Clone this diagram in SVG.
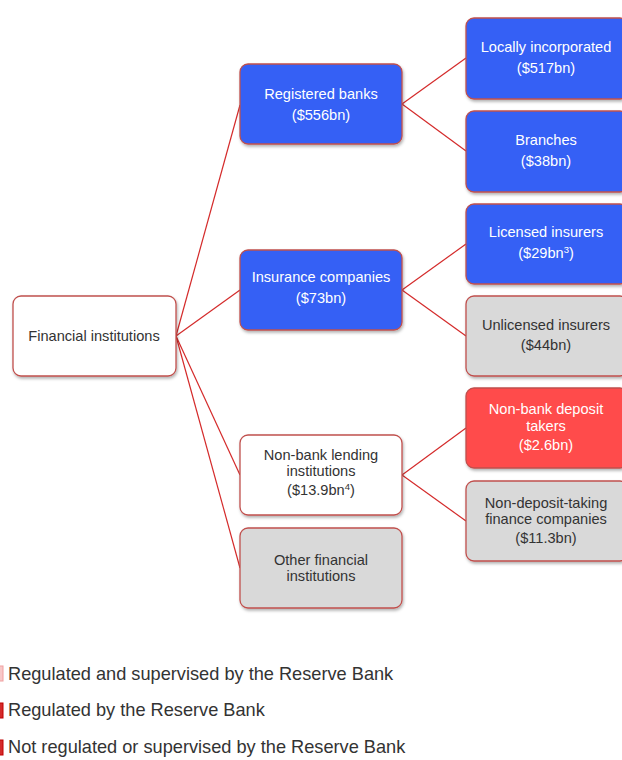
<svg xmlns="http://www.w3.org/2000/svg" width="622" height="760" viewBox="0 0 622 760">
<defs>
<filter id="sh" x="-10%" y="-10%" width="125%" height="130%">
<feDropShadow dx="1" dy="2" stdDeviation="1.5" flood-color="#000" flood-opacity="0.3"/>
</filter>
</defs>
<style>
.box{stroke:#C0504D;stroke-width:1.3;filter:url(#sh)}
.blue{fill:#3461F5}
.red{fill:#FF4B4B}
.gray{fill:#D9D9D9}
.white{fill:#FFFFFF}
text{font-family:"Liberation Sans",Arial,sans-serif;font-size:14.6px;text-anchor:middle}
.lt{fill:#FFFFFF}
.dk{fill:#333333}
.leg{font-size:18.2px;text-anchor:start;fill:#333333}
.conn{stroke:#D42A2A;stroke-width:1.2;fill:none}
</style>
<rect width="622" height="760" fill="#FFFFFF"/>
<g id="connectors">
<line class="conn" x1="176" y1="336" x2="240" y2="105"/>
<line class="conn" x1="176" y1="336" x2="240" y2="290"/>
<line class="conn" x1="176" y1="336" x2="240" y2="475"/>
<line class="conn" x1="176" y1="336" x2="240" y2="568"/>
<line class="conn" x1="402" y1="104" x2="466" y2="58"/>
<line class="conn" x1="402" y1="104" x2="466" y2="151"/>
<line class="conn" x1="402" y1="290" x2="466" y2="244"/>
<line class="conn" x1="402" y1="290" x2="466" y2="336"/>
<line class="conn" x1="402" y1="475" x2="466" y2="428"/>
<line class="conn" x1="402" y1="475" x2="466" y2="521"/>
</g>
<g id="financial-institutions">
<rect class="box white" x="13" y="296" width="163" height="80" rx="8"/>
<text class="dk" x="94" y="341">Financial institutions</text>
</g>
<g id="registered-banks">
<rect class="box blue" x="240" y="64" width="162" height="80" rx="8"/>
<text class="lt" x="321" y="99">Registered banks</text>
<text class="lt" x="321" y="120">($556bn)</text>
</g>
<g id="locally-incorporated">
<rect class="box blue" x="466" y="18" width="162" height="81" rx="8"/>
<text class="lt" x="546" y="52">Locally incorporated</text>
<text class="lt" x="546" y="73">($517bn)</text>
</g>
<g id="branches">
<rect class="box blue" x="466" y="111" width="162" height="81" rx="8"/>
<text class="lt" x="546" y="145">Branches</text>
<text class="lt" x="546" y="166">($38bn)</text>
</g>
<g id="insurance-companies">
<rect class="box blue" x="240" y="250" width="162" height="80" rx="8"/>
<text class="lt" x="321" y="282">Insurance companies</text>
<text class="lt" x="321" y="303">($73bn)</text>
</g>
<g id="licensed-insurers">
<rect class="box blue" x="466" y="204" width="162" height="80" rx="8"/>
<text class="lt" x="546" y="237">Licensed insurers</text>
<text class="lt" x="546" y="258">($29bn<tspan font-size="9.5" dy="-5">3</tspan><tspan dy="5">)</tspan></text>
</g>
<g id="unlicensed-insurers">
<rect class="box gray" x="466" y="296" width="162" height="80" rx="8"/>
<text class="dk" x="546" y="330">Unlicensed insurers</text>
<text class="dk" x="546" y="350">($44bn)</text>
</g>
<g id="non-bank-deposit-takers">
<rect class="box red" x="466" y="388" width="162" height="80" rx="8"/>
<text class="lt" x="546" y="414">Non-bank deposit</text>
<text class="lt" x="546" y="431">takers</text>
<text class="lt" x="546" y="450">($2.6bn)</text>
</g>
<g id="non-deposit-taking-finance-companies">
<rect class="box gray" x="466" y="481" width="162" height="80" rx="8"/>
<text class="dk" x="546" y="508">Non-deposit-taking</text>
<text class="dk" x="546" y="524">finance companies</text>
<text class="dk" x="546" y="543">($11.3bn)</text>
</g>
<g id="non-bank-lending-institutions">
<rect class="box white" x="240" y="435" width="162" height="80" rx="8"/>
<text class="dk" x="321" y="460">Non-bank lending</text>
<text class="dk" x="321" y="476">institutions</text>
<text class="dk" x="321" y="495">($13.9bn<tspan font-size="9.5" dy="-5">4</tspan><tspan dy="5">)</tspan></text>
</g>
<g id="other-financial-institutions">
<rect class="box gray" x="240" y="528" width="162" height="80" rx="8"/>
<text class="dk" x="321" y="565">Other financial</text>
<text class="dk" x="321" y="581">institutions</text>
</g>
<g id="legend">
<rect x="-12" y="666" width="15" height="15" fill="#F8C8C8" stroke="#F0A0A0"/>
<text class="leg" x="8" y="680">Regulated and supervised by the Reserve Bank</text>
<rect x="-12" y="703" width="15" height="15" fill="#D42A2A" stroke="#C00000"/>
<text class="leg" x="8" y="716">Regulated by the Reserve Bank</text>
<rect x="-12" y="740" width="15" height="15" fill="#D42A2A" stroke="#C00000"/>
<text class="leg" x="8" y="753">Not regulated or supervised by the Reserve Bank</text>
</g>
</svg>
